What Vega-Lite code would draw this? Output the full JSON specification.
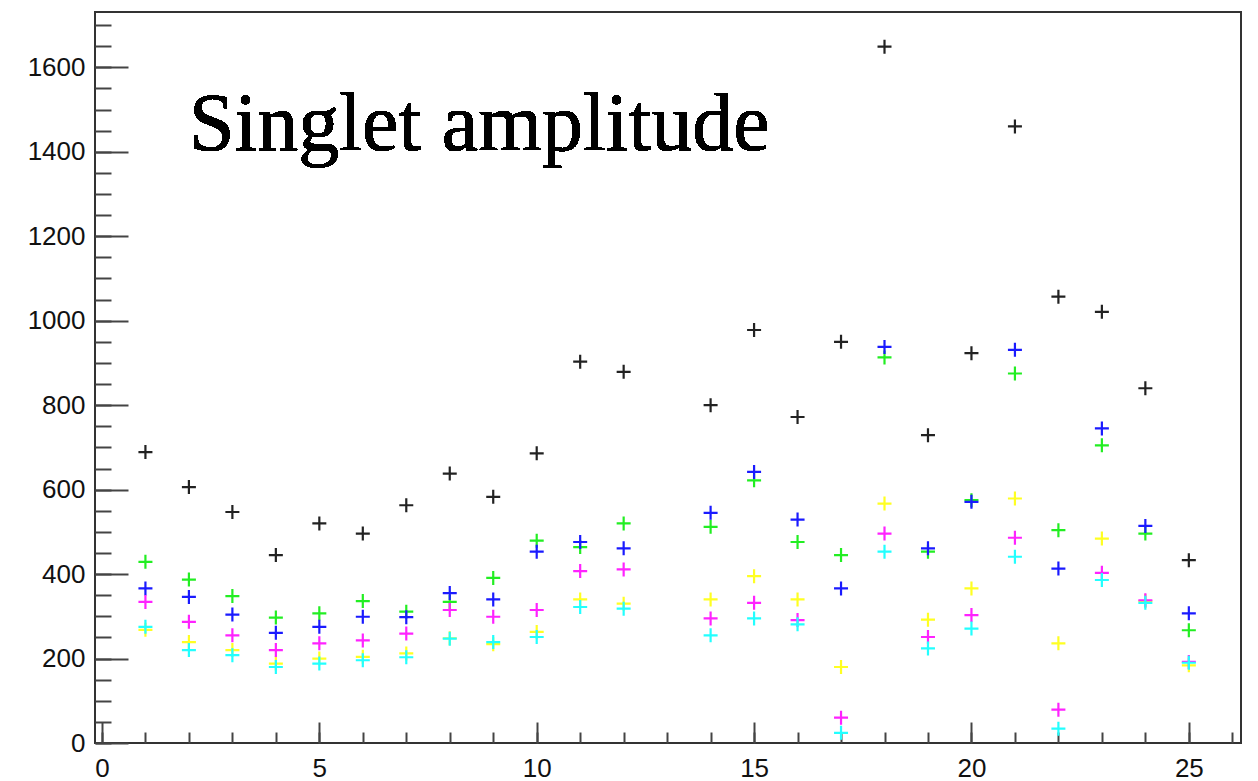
{
  "$schema": "https://vega.github.io/schema/vega-lite/v6.json",
  "width": 1146,
  "height": 731,
  "autosize": {"type": "none"},
  "padding": {"left": 95, "top": 12, "right": 17, "bottom": 38},
  "background": "white",
  "config": {
    "view": {"stroke": "#333", "strokeWidth": 2},
    "axis": {"labelFont": "Liberation Sans", "labelFontSize": 26, "labelColor": "#111", "title": null, "grid": false, "domain": false, "tickColor": "#444", "tickWidth": 2, "format": "d"}
  },
  "data": {
    "values": [
      {"ch": 1, "s": "black", "amp": 689}, {"ch": 2, "s": "black", "amp": 606}, {"ch": 3, "s": "black", "amp": 547}, {"ch": 4, "s": "black", "amp": 445}, {"ch": 5, "s": "black", "amp": 520}, {"ch": 6, "s": "black", "amp": 496}, {"ch": 7, "s": "black", "amp": 563}, {"ch": 8, "s": "black", "amp": 638}, {"ch": 9, "s": "black", "amp": 583}, {"ch": 10, "s": "black", "amp": 686}, {"ch": 11, "s": "black", "amp": 903}, {"ch": 12, "s": "black", "amp": 879}, {"ch": 14, "s": "black", "amp": 800}, {"ch": 15, "s": "black", "amp": 978}, {"ch": 16, "s": "black", "amp": 772}, {"ch": 17, "s": "black", "amp": 950}, {"ch": 18, "s": "black", "amp": 1649}, {"ch": 19, "s": "black", "amp": 729}, {"ch": 20, "s": "black", "amp": 923}, {"ch": 21, "s": "black", "amp": 1460}, {"ch": 22, "s": "black", "amp": 1057}, {"ch": 23, "s": "black", "amp": 1021}, {"ch": 24, "s": "black", "amp": 840}, {"ch": 25, "s": "black", "amp": 433},
      {"ch": 1, "s": "green", "amp": 429}, {"ch": 2, "s": "green", "amp": 387}, {"ch": 3, "s": "green", "amp": 348}, {"ch": 4, "s": "green", "amp": 297}, {"ch": 5, "s": "green", "amp": 307}, {"ch": 6, "s": "green", "amp": 336}, {"ch": 7, "s": "green", "amp": 311}, {"ch": 8, "s": "green", "amp": 334}, {"ch": 9, "s": "green", "amp": 391}, {"ch": 10, "s": "green", "amp": 479}, {"ch": 11, "s": "green", "amp": 464}, {"ch": 12, "s": "green", "amp": 520}, {"ch": 14, "s": "green", "amp": 512}, {"ch": 15, "s": "green", "amp": 622}, {"ch": 16, "s": "green", "amp": 476}, {"ch": 17, "s": "green", "amp": 445}, {"ch": 18, "s": "green", "amp": 913}, {"ch": 19, "s": "green", "amp": 453}, {"ch": 20, "s": "green", "amp": 575}, {"ch": 21, "s": "green", "amp": 875}, {"ch": 22, "s": "green", "amp": 504}, {"ch": 23, "s": "green", "amp": 705}, {"ch": 24, "s": "green", "amp": 496}, {"ch": 25, "s": "green", "amp": 267},
      {"ch": 1, "s": "blue", "amp": 366}, {"ch": 2, "s": "blue", "amp": 346}, {"ch": 3, "s": "blue", "amp": 304}, {"ch": 4, "s": "blue", "amp": 261}, {"ch": 5, "s": "blue", "amp": 275}, {"ch": 6, "s": "blue", "amp": 299}, {"ch": 7, "s": "blue", "amp": 298}, {"ch": 8, "s": "blue", "amp": 355}, {"ch": 9, "s": "blue", "amp": 340}, {"ch": 10, "s": "blue", "amp": 453}, {"ch": 11, "s": "blue", "amp": 476}, {"ch": 12, "s": "blue", "amp": 461}, {"ch": 14, "s": "blue", "amp": 545}, {"ch": 15, "s": "blue", "amp": 642}, {"ch": 16, "s": "blue", "amp": 529}, {"ch": 17, "s": "blue", "amp": 366}, {"ch": 18, "s": "blue", "amp": 938}, {"ch": 19, "s": "blue", "amp": 461}, {"ch": 20, "s": "blue", "amp": 571}, {"ch": 21, "s": "blue", "amp": 931}, {"ch": 22, "s": "blue", "amp": 413}, {"ch": 23, "s": "blue", "amp": 745}, {"ch": 24, "s": "blue", "amp": 514}, {"ch": 25, "s": "blue", "amp": 307},
      {"ch": 1, "s": "yellow", "amp": 268}, {"ch": 2, "s": "yellow", "amp": 239}, {"ch": 3, "s": "yellow", "amp": 220}, {"ch": 4, "s": "yellow", "amp": 188}, {"ch": 5, "s": "yellow", "amp": 200}, {"ch": 6, "s": "yellow", "amp": 204}, {"ch": 7, "s": "yellow", "amp": 212}, {"ch": 8, "s": "yellow", "amp": 248}, {"ch": 9, "s": "yellow", "amp": 234}, {"ch": 10, "s": "yellow", "amp": 263}, {"ch": 11, "s": "yellow", "amp": 340}, {"ch": 12, "s": "yellow", "amp": 330}, {"ch": 14, "s": "yellow", "amp": 340}, {"ch": 15, "s": "yellow", "amp": 395}, {"ch": 16, "s": "yellow", "amp": 340}, {"ch": 17, "s": "yellow", "amp": 180}, {"ch": 18, "s": "yellow", "amp": 567}, {"ch": 19, "s": "yellow", "amp": 292}, {"ch": 20, "s": "yellow", "amp": 366}, {"ch": 21, "s": "yellow", "amp": 579}, {"ch": 22, "s": "yellow", "amp": 236}, {"ch": 23, "s": "yellow", "amp": 484}, {"ch": 24, "s": "yellow", "amp": 336}, {"ch": 25, "s": "yellow", "amp": 184},
      {"ch": 1, "s": "magenta", "amp": 334}, {"ch": 2, "s": "magenta", "amp": 287}, {"ch": 3, "s": "magenta", "amp": 255}, {"ch": 4, "s": "magenta", "amp": 220}, {"ch": 5, "s": "magenta", "amp": 236}, {"ch": 6, "s": "magenta", "amp": 243}, {"ch": 7, "s": "magenta", "amp": 259}, {"ch": 8, "s": "magenta", "amp": 315}, {"ch": 9, "s": "magenta", "amp": 299}, {"ch": 10, "s": "magenta", "amp": 315}, {"ch": 11, "s": "magenta", "amp": 407}, {"ch": 12, "s": "magenta", "amp": 411}, {"ch": 14, "s": "magenta", "amp": 295}, {"ch": 15, "s": "magenta", "amp": 332}, {"ch": 16, "s": "magenta", "amp": 291}, {"ch": 17, "s": "magenta", "amp": 60}, {"ch": 18, "s": "magenta", "amp": 496}, {"ch": 19, "s": "magenta", "amp": 251}, {"ch": 20, "s": "magenta", "amp": 303}, {"ch": 21, "s": "magenta", "amp": 486}, {"ch": 22, "s": "magenta", "amp": 79}, {"ch": 23, "s": "magenta", "amp": 403}, {"ch": 24, "s": "magenta", "amp": 338}, {"ch": 25, "s": "magenta", "amp": 192},
      {"ch": 1, "s": "cyan", "amp": 275}, {"ch": 2, "s": "cyan", "amp": 220}, {"ch": 3, "s": "cyan", "amp": 208}, {"ch": 4, "s": "cyan", "amp": 180}, {"ch": 5, "s": "cyan", "amp": 188}, {"ch": 6, "s": "cyan", "amp": 196}, {"ch": 7, "s": "cyan", "amp": 203}, {"ch": 8, "s": "cyan", "amp": 247}, {"ch": 9, "s": "cyan", "amp": 239}, {"ch": 10, "s": "cyan", "amp": 251}, {"ch": 11, "s": "cyan", "amp": 322}, {"ch": 12, "s": "cyan", "amp": 318}, {"ch": 14, "s": "cyan", "amp": 255}, {"ch": 15, "s": "cyan", "amp": 295}, {"ch": 16, "s": "cyan", "amp": 281}, {"ch": 17, "s": "cyan", "amp": 24}, {"ch": 18, "s": "cyan", "amp": 453}, {"ch": 19, "s": "cyan", "amp": 224}, {"ch": 20, "s": "cyan", "amp": 271}, {"ch": 21, "s": "cyan", "amp": 441}, {"ch": 22, "s": "cyan", "amp": 34}, {"ch": 23, "s": "cyan", "amp": 386}, {"ch": 24, "s": "cyan", "amp": 332}, {"ch": 25, "s": "cyan", "amp": 190}
    ]
  },
  "resolve": {"axis": {"x": "independent", "y": "independent"}},
  "layer": [
    {
      "mark": {"type": "point", "shape": "M-1,0L1,0M0,-1L0,1", "filled": false, "size": 196, "strokeWidth": 2.2, "opacity": 1},
      "encoding": {
        "x": {"field": "ch", "type": "quantitative", "scale": {"domain": [-0.16, 26.2], "nice": false, "zero": false},
              "axis": {"orient": "bottom", "values": [0, 5, 10, 15, 20, 25], "ticks": false, "labelPadding": 12, "labelFlush": false}},
        "y": {"field": "amp", "type": "quantitative", "scale": {"domain": [0, 1731], "nice": false},
              "axis": {"orient": "left", "values": [0, 200, 400, 600, 800, 1000, 1200, 1400, 1600], "ticks": false, "labelPadding": 10, "labelFlush": false}},
        "color": {"field": "s", "type": "nominal", "legend": null,
                  "scale": {"domain": ["black", "green", "blue", "yellow", "magenta", "cyan"], "range": ["#222222", "#22ee22", "#1a1aff", "#ffff22", "#ff22ff", "#22ffff"]}}
      }
    },
    {
      "mark": {"type": "text", "text": "Singlet amplitude", "font": "Liberation Serif", "fontSize": 82, "align": "left", "baseline": "alphabetic", "color": "#000"},
      "encoding": {
        "x": {"datum": 2.0, "type": "quantitative", "axis": {"orient": "bottom", "values": [0, 5, 10, 15, 20, 25], "labels": false, "tickSize": -21}},
        "y": {"datum": 1405, "type": "quantitative", "axis": {"orient": "left", "values": [0, 200, 400, 600, 800, 1000, 1200, 1400, 1600], "labels": false, "tickSize": -33}}
      }
    },
    {
      "mark": {"type": "point", "opacity": 0},
      "encoding": {
        "x": {"field": "ch", "type": "quantitative", "axis": {"orient": "bottom", "values": [0,1,2,3,4,5,6,7,8,9,10,11,12,13,14,15,16,17,18,19,20,21,22,23,24,25,26], "labels": false, "tickSize": -11}},
        "y": {"field": "amp", "type": "quantitative", "axis": {"orient": "left", "values": [0,50,100,150,200,250,300,350,400,450,500,550,600,650,700,750,800,850,900,950,1000,1050,1100,1150,1200,1250,1300,1350,1400,1450,1500,1550,1600,1650,1700], "labels": false, "tickSize": -16}}
      }
    }
  ]
}
